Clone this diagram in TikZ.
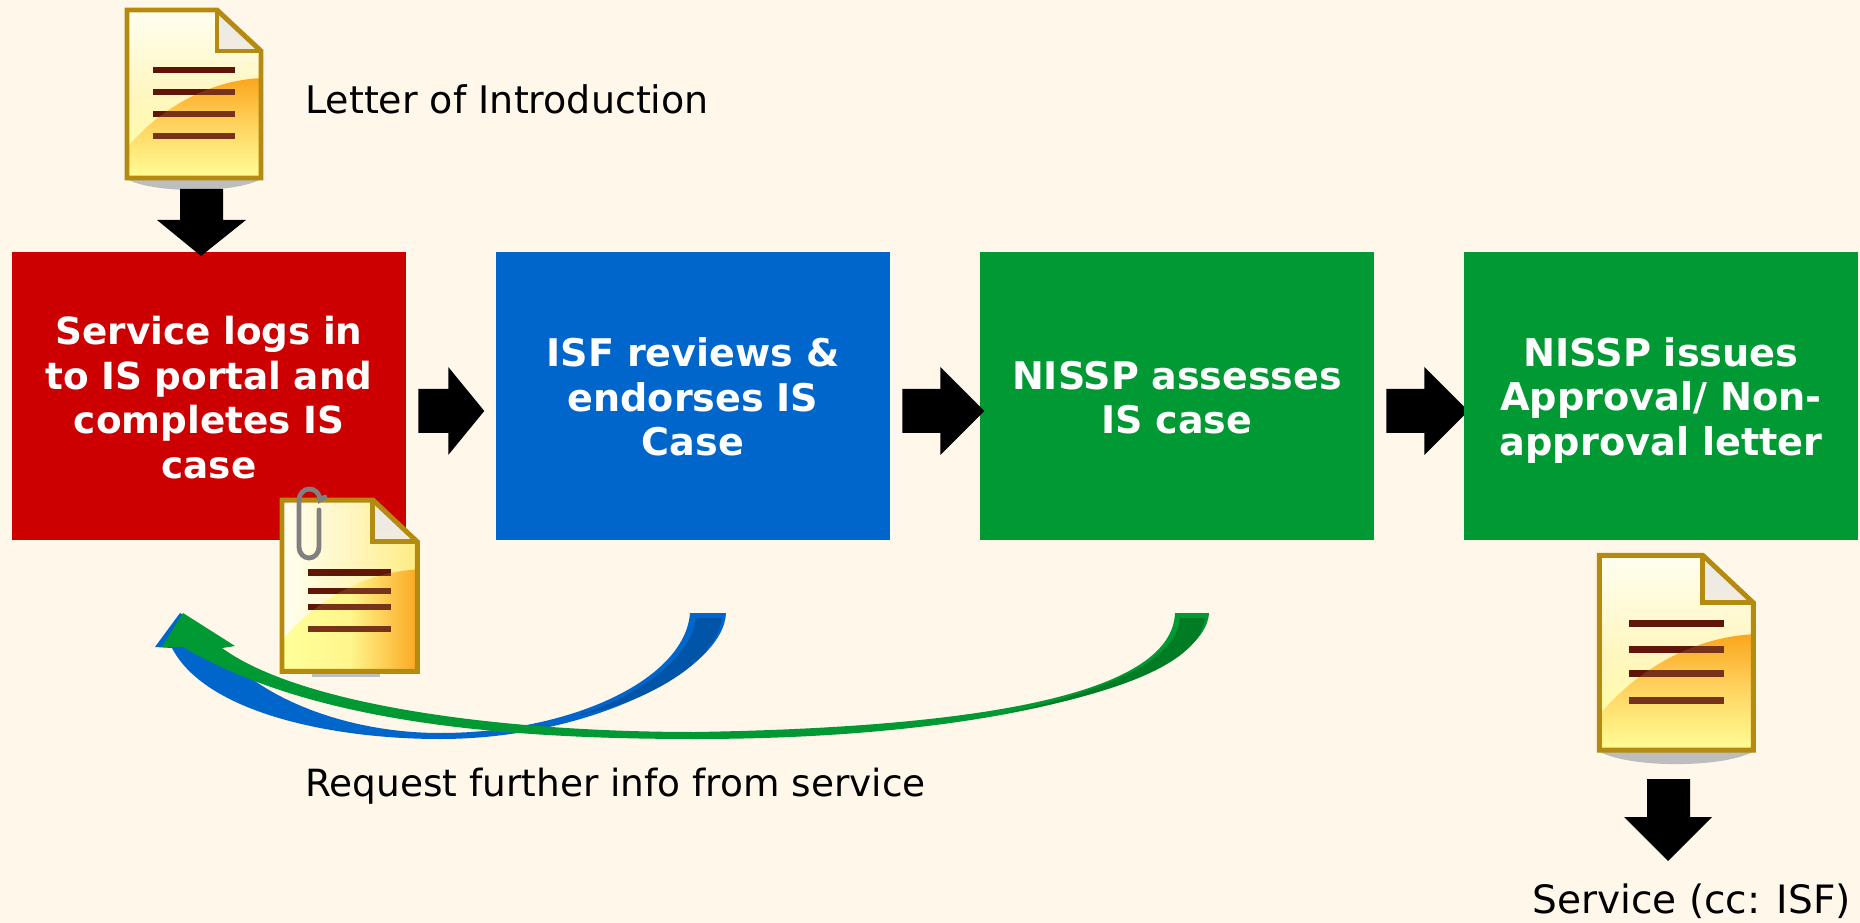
\documentclass[tikz,border=0pt]{standalone}
\usepackage{fontspec}
\setmainfont{DejaVu Sans}
\definecolor{bgc}{HTML}{FFF7E9}
\definecolor{redbox}{HTML}{CC0000}
\definecolor{bluebox}{HTML}{0066CC}
\definecolor{greenbox}{HTML}{009933}
\definecolor{darkblue}{HTML}{0055A8}
\definecolor{darkgreen}{HTML}{007D24}
\definecolor{docedge}{HTML}{B58A10}
\definecolor{docline}{HTML}{5F1608}
\definecolor{doclineb}{HTML}{76331A}
\definecolor{docorange}{HTML}{FBA61D}
\definecolor{docpale}{HTML}{FFFF99}
\definecolor{doctop}{HTML}{FFFFF2}
\definecolor{docmid}{HTML}{FFF6C0}
\definecolor{docmidb}{HTML}{FFD765}
\tikzset{
  stepbox/.style 2 args={fill=#1,minimum width=394*0.75pt,minimum height=288*0.75pt,inner sep=0pt,
    text=white,align=center,text width=380*0.75pt,font=\fontsize{#2}{33.4}\selectfont\bfseries},
  blockarrow/.style={fill=black},
  caption/.style={anchor=base west,inner sep=0pt,font=\fontsize{#1}{33}\selectfont},
  vbody/.style={top color=doctop,bottom color=docpale,middle color=docmid},
  vswoosh/.style={top color=docorange,bottom color=docpale,middle color=docmidb},
  hbody/.style={left color=doctop,right color=docpale!85!orange,middle color=docmid},
  hswoosh/.style={left color=docpale,right color=docorange,middle color=docpale!90!docorange},
}
% #1 x, #2 y, #3 xscale, #4 yscale, #5 body shade, #6 swoosh shade, #7 shadow, #8 line positions
\newcommand{\docicon}[8]{%
\begin{scope}[shift={(#1,#2)},xscale=#3,yscale=#4]
  \fill[black!26,#7] (0,170) .. controls (25,186) and (113,186) .. (138,170) -- cycle;
  \begin{scope}
    \clip (2,2) -- (92,2) -- (136,43) -- (136,170) -- (2,170) -- cycle;
    \shade[#5] (0,0) rectangle (138,172);
    \shade[#6] (0,142) .. controls (30,105) and (80,72) .. (138,70) -- (138,172) -- (0,172) -- cycle;
  \end{scope}
  \foreach \ly in {#8}
    \fill[docline] (28,\ly-3) rectangle (110,\ly+3);
  \begin{scope}
    \clip (0,142) .. controls (30,105) and (80,72) .. (138,70) -- (138,172) -- (0,172) -- cycle;
    \foreach \ly in {#8}
      \fill[doclineb] (28,\ly-3) rectangle (110,\ly+3);
  \end{scope}
  \shade[top color=black!8,bottom color=bgc!90!gray] (92,2) -- (136,43) -- (92,43) -- cycle;
  \draw[docedge,line width=3.7pt,line join=miter] (2,2) -- (92,2) -- (136,43) -- (136,170) -- (2,170) -- cycle;
  \draw[docedge,line width=3.7pt,line join=miter] (92,2) -- (92,43) -- (136,43);
\end{scope}}
\newcommand{\rightblock}[4]{% node, gap, shaft, head
  \fill[blockarrow] (#1.east) ++(#2,-7) -- ++(#3,0) -- ++(0,-22) -- ++(#4,44) -- ++(-#4,44) -- ++(0,-22) -- ++(-#3,0) -- cycle;}
\begin{document}
\begin{tikzpicture}[x=0.75pt,y=-0.75pt]
\useasboundingbox (0,0) rectangle (1860,923);
\fill[bgc] (0,0) rectangle (1860,923);

\node[stepbox={redbox}{28}] (s1) at (209,396) {\rule{0pt}{23.5pt}Service logs in\\to IS portal and\\completes IS\\case};
\node[stepbox={bluebox}{28.6}] (s2) at (693,396) {\rule{0pt}{23.5pt}ISF reviews \&\\endorses IS\\Case};
\node[stepbox={greenbox}{28.5}] (s3) at (1177,396) {\rule{0pt}{23.5pt}NISSP assesses\\IS case};

\rightblock{s1}{12}{30}{36}
\rightblock{s2}{12}{38}{44}
\rightblock{s3}{12}{38}{44}

\node[stepbox={greenbox}{28.7}] (s4) at (1661,396) {\rule{0pt}{28pt}NISSP issues\\Approval/ Non-\\approval letter};

\docicon{125}{8}{1}{1}{vbody}{vswoosh}{}{62,84,106,128}
\fill[black!26] (312,673) rectangle (380,677);
\docicon{280}{498}{1.01}{1.02}{hbody}{hswoosh}{opacity=0}{73,91,107,128}
\docicon{1597}{553}{1.15}{1.16}{vbody}{vswoosh}{}{61,83,104,127}
\draw[black!50,line width=3.6pt,line cap=round] (319,510) -- (319,547) arc (0:180:10 and 11) -- (299,500) arc (180:360:10.5 and 11) -- (325,497);

\coordinate (d1) at (201,256);
\coordinate (d2) at (1668,861);
\fill[blockarrow] (d1) -- ++(-44,-36) -- ++(23,0) -- ++(0,-31) -- ++(43,0) -- ++(0,31) -- ++(23,0) -- cycle;
\fill[blockarrow] (d2) -- ++(-44,-44) -- ++(23,0) -- ++(0,-38) -- ++(43,0) -- ++(0,38) -- ++(22,0) -- cycle;

% blue return arrow
\fill[bluebox] (726,613) .. controls (724,670) and (590,739) .. (440,739)
  .. controls (330,739) and (205,712) .. (172,648) -- (155,647) -- (180,613) -- (232,646) -- (219,648)
  .. controls (260,700) and (350,733) .. (440,733)
  .. controls (570,733) and (685,680) .. (690,613) -- cycle;
\fill[darkblue] (696,618) .. controls (692,660) and (630,700) .. (575,716) .. controls (640,705) and (716,665) .. (722,618) -- cycle;
% green return arrow
\fill[greenbox] (1209,613) .. controls (1205,680) and (1000,739) .. (695,739)
  .. controls (500,739) and (310,722) .. (183,647) -- (162,647) -- (183,613) -- (235,646) -- (222,648)
  .. controls (300,705) and (500,732) .. (695,732)
  .. controls (1000,727) and (1172,690) .. (1175,613) -- cycle;
\fill[darkgreen] (1180,618) .. controls (1177,665) and (1090,695) .. (1001,714) .. controls (1110,695) and (1200,665) .. (1205,618) -- cycle;

\node[caption=28.5] (t1) at (305,114) {Letter of Introduction};
\node[caption=28.1] (t2) at (305,796) {Request further info from service};
\node[caption=29.3] (t3) at (1532,913) {Service (cc: ISF)};
\end{tikzpicture}
\end{document}
